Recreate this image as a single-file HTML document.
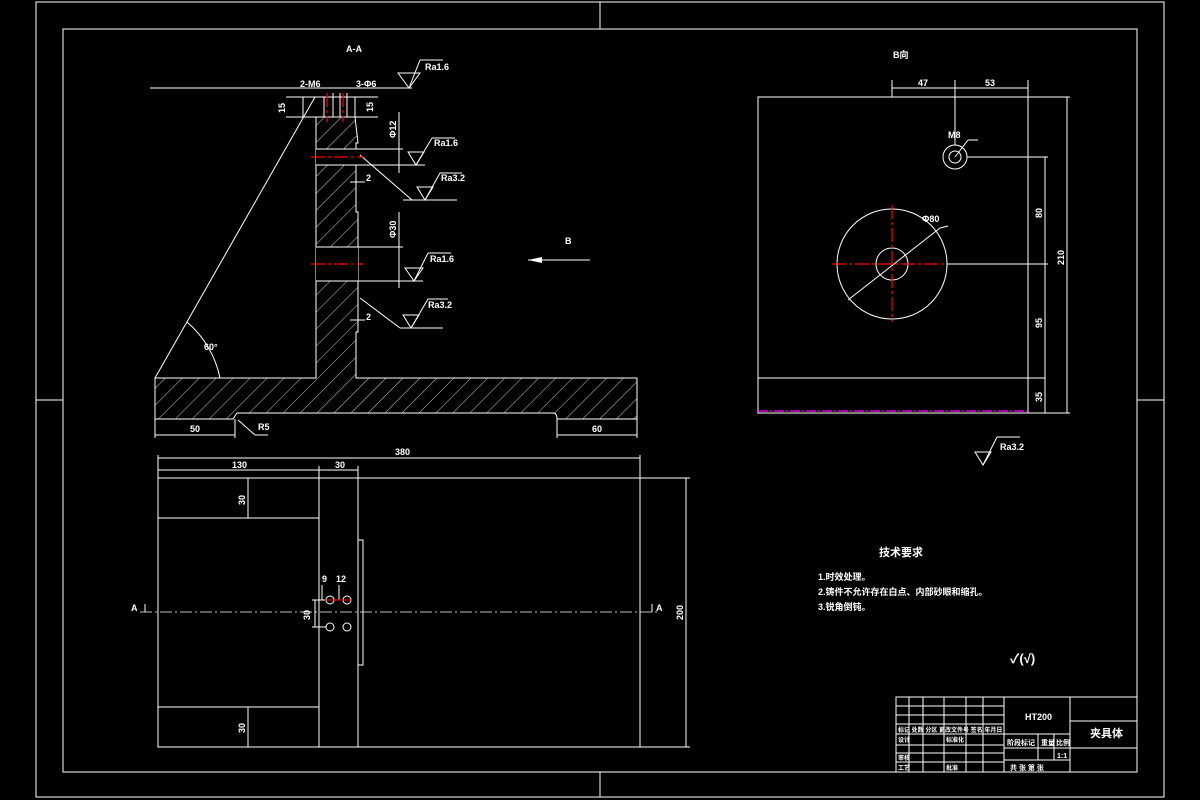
<!DOCTYPE html>
<html><head><meta charset="utf-8"><style>
html,body{margin:0;padding:0;background:#000;}
svg{display:block;}
text{font-family:"Liberation Sans","Noto Sans CJK SC",sans-serif;fill:#fff;font-size:9px;font-weight:bold;}
</style></head><body>
<svg width="1200" height="800" viewBox="0 0 1200 800" xmlns="http://www.w3.org/2000/svg">
<defs>
<pattern id="h" width="12" height="12" patternUnits="userSpaceOnUse" patternTransform="rotate(45)">
<line x1="0" y1="0" x2="0" y2="12" stroke="#fff" stroke-width="0.8"/>
</pattern>
</defs>
<g stroke="#fff" fill="none" stroke-width="1">
<!-- frames -->
<rect x="36" y="2" width="1128" height="795"/>
<rect x="63" y="29" width="1074" height="743"/>
<line x1="600" y1="2" x2="600" y2="29"/><line x1="600" y1="772" x2="600" y2="797"/>
<line x1="36" y1="400" x2="63" y2="400"/><line x1="1137" y1="400" x2="1164" y2="400"/>

<!-- section A-A -->
<path d="M316 117 L316 378 L155 378 L155 419 L233 419 L237 413 L553 413 Q557 413 557 419 L637 419 L637 378 L356 378 L356 332 L358 332 L358 212 L356 212 L356 143 L358 143 L355 117 Z" fill="url(#h)"/>
<rect x="316" y="149" width="42" height="16" fill="#000" stroke="none"/>
<rect x="316" y="247" width="42" height="34" fill="#000" stroke="none"/>
<line x1="316" y1="149" x2="403" y2="149"/><line x1="316" y1="165" x2="425" y2="165"/>
<line x1="316" y1="247" x2="403" y2="247"/><line x1="316" y1="281" x2="423" y2="281"/>
<rect x="303" y="97" width="52" height="20"/>
<line x1="324" y1="97" x2="324" y2="117"/><line x1="333" y1="93" x2="333" y2="117"/>
<line x1="340" y1="93" x2="340" y2="117"/><line x1="347" y1="93" x2="347" y2="117"/>
<line x1="155" y1="378" x2="315" y2="97"/>
<path d="M187 322 A100 100 0 0 1 220 378"/>
<!-- dims -->
<line x1="150" y1="88" x2="412" y2="88"/>
<line x1="286" y1="97" x2="303" y2="97"/><line x1="286" y1="117" x2="303" y2="117"/>
<line x1="355" y1="97" x2="378" y2="97"/><line x1="355" y1="117" x2="378" y2="117"/>
<line x1="399" y1="112" x2="399" y2="173"/><line x1="399" y1="212" x2="399" y2="288"/>
<line x1="155" y1="419" x2="155" y2="438"/><line x1="235" y1="419" x2="235" y2="438"/>
<line x1="155" y1="435" x2="235" y2="435"/>
<line x1="557" y1="419" x2="557" y2="438"/><line x1="637" y1="419" x2="637" y2="438"/>
<line x1="557" y1="435" x2="637" y2="435"/>
<line x1="238" y1="420" x2="255" y2="435"/><line x1="255" y1="435" x2="268" y2="435"/>
<!-- roughness leaders -->
<line x1="360" y1="155" x2="412" y2="200"/><line x1="360" y1="298" x2="400" y2="328"/>
<path d="M398 73 L409 88 L420 73 Z"/><line x1="409" y1="88" x2="420" y2="60"/><line x1="420" y1="60" x2="443" y2="60"/>
<path d="M408 152 L416 165 L424 152 Z"/><line x1="416" y1="165" x2="432" y2="138"/><line x1="432" y1="138" x2="455" y2="138"/>
<path d="M417 187 L425 200 L433 187 Z"/><line x1="403" y1="200" x2="457" y2="200"/><line x1="425" y1="200" x2="440" y2="173"/><line x1="440" y1="173" x2="462" y2="173"/>
<path d="M405 268 L414 281 L423 268 Z"/><line x1="414" y1="281" x2="428" y2="253"/><line x1="428" y1="253" x2="451" y2="253"/>
<path d="M403 315 L411 328 L419 315 Z"/><line x1="400" y1="328" x2="443" y2="328"/><line x1="411" y1="328" x2="428" y2="299"/><line x1="428" y1="299" x2="448" y2="299"/>
<line x1="350" y1="182" x2="365" y2="182"/><line x1="350" y1="320" x2="365" y2="320"/>
<!-- arrow B -->
<line x1="528" y1="260" x2="590" y2="260"/>
</g>
<path d="M528 260 L542 257 L542 263 Z" fill="#fff"/>
<g stroke="#f00" stroke-dasharray="14 3 3 3" stroke-width="1.2">
<line x1="311" y1="157" x2="363" y2="157"/><line x1="311" y1="264" x2="363" y2="264"/>
<line x1="327" y1="93" x2="327" y2="122"/><line x1="343" y1="93" x2="343" y2="122"/>
</g>
<text x="346" y="52">A-A</text>
<text x="300" y="87">2-M6</text><text x="356" y="87">3-Φ6</text>
<text x="425" y="70">Ra1.6</text><text x="434" y="146">Ra1.6</text>
<text x="441" y="181">Ra3.2</text><text x="430" y="262">Ra1.6</text><text x="428" y="308">Ra3.2</text>
<text x="366" y="181">2</text><text x="366" y="320">2</text>
<text x="204" y="350">60°</text><text x="190" y="432">50</text><text x="592" y="432">60</text>
<text x="258" y="430">R5</text><text x="565" y="244">B</text>
<text x="0" y="0" transform="translate(285 113) rotate(-90)">15</text>
<text x="0" y="0" transform="translate(373 112) rotate(-90)">15</text>
<text x="0" y="0" transform="translate(396 138) rotate(-90)">Φ12</text>
<text x="0" y="0" transform="translate(396 238) rotate(-90)">Φ30</text>

<!-- plan view -->
<g stroke="#fff" fill="none" stroke-width="1">
<rect x="158" y="478" width="482" height="269"/>
<line x1="319" y1="478" x2="319" y2="747"/><line x1="358" y1="478" x2="358" y2="747"/>
<line x1="158" y1="518" x2="319" y2="518"/><line x1="158" y1="707" x2="319" y2="707"/>
<rect x="358" y="540" width="5" height="125"/>
<circle cx="330" cy="600" r="4"/><circle cx="347" cy="600" r="4"/>
<circle cx="330" cy="627" r="4"/><circle cx="347" cy="627" r="4"/>
<line x1="158" y1="455" x2="158" y2="478"/><line x1="640" y1="455" x2="640" y2="478"/>
<line x1="158" y1="458" x2="640" y2="458"/><line x1="158" y1="470" x2="358" y2="470"/>
<line x1="319" y1="466" x2="319" y2="478"/><line x1="358" y1="466" x2="358" y2="478"/>
<line x1="640" y1="478" x2="690" y2="478"/><line x1="640" y1="747" x2="690" y2="747"/>
<line x1="686" y1="478" x2="686" y2="747"/>
<line x1="248" y1="478" x2="248" y2="518"/><line x1="248" y1="707" x2="248" y2="747"/>
<line x1="322" y1="585" x2="322" y2="600"/><line x1="339" y1="585" x2="339" y2="600"/>
<line x1="312" y1="600" x2="326" y2="600"/><line x1="312" y1="627" x2="326" y2="627"/><line x1="315" y1="600" x2="315" y2="627"/>
<line x1="145" y1="604" x2="145" y2="612"/><line x1="652" y1="604" x2="652" y2="612"/>
<line x1="140" y1="612" x2="660" y2="612" stroke-dasharray="12 3 2 3" stroke-width="0.7"/>
</g>
<line x1="325" y1="600" x2="352" y2="600" stroke="#f00" stroke-width="1"/>
<text x="232" y="468">130</text><text x="335" y="468">30</text><text x="395" y="455">380</text>
<text x="322" y="582">9</text><text x="336" y="582">12</text>
<text x="131" y="611">A</text><text x="656" y="611">A</text>
<text x="0" y="0" transform="translate(245 505) rotate(-90)">30</text>
<text x="0" y="0" transform="translate(245 733) rotate(-90)">30</text>
<text x="0" y="0" transform="translate(310 620) rotate(-90)">30</text>
<text x="0" y="0" transform="translate(683 620) rotate(-90)">200</text>

<!-- B view -->
<g stroke="#fff" fill="none" stroke-width="1">
<rect x="758" y="97" width="270" height="316"/>
<line x1="758" y1="378" x2="1045" y2="378"/>
<circle cx="892" cy="264" r="55"/><circle cx="892" cy="264" r="16"/>
<circle cx="955" cy="157" r="12"/><circle cx="955" cy="157" r="6"/>
<line x1="848" y1="300" x2="940" y2="228"/><line x1="940" y1="228" x2="948" y2="226"/>
<line x1="955" y1="157" x2="968" y2="140"/><line x1="968" y1="140" x2="978" y2="140"/>
<line x1="892" y1="80" x2="892" y2="97"/><line x1="955" y1="80" x2="955" y2="145"/><line x1="1028" y1="80" x2="1028" y2="97"/>
<line x1="892" y1="88" x2="1028" y2="88"/>
<line x1="967" y1="157" x2="1048" y2="157"/><line x1="947" y1="264" x2="1048" y2="264"/>
<line x1="1028" y1="97" x2="1070" y2="97"/><line x1="1028" y1="413" x2="1070" y2="413"/>
<line x1="1045" y1="157" x2="1045" y2="413"/><line x1="1067" y1="97" x2="1067" y2="413"/>
<path d="M975 452 L983 465 L991 452 Z"/><line x1="983" y1="465" x2="997" y2="437"/><line x1="997" y1="437" x2="1020" y2="437"/>
</g>
<g stroke="#f00" stroke-dasharray="14 3 3 3" stroke-width="1.2">
<line x1="832" y1="264" x2="947" y2="264"/><line x1="892" y1="205" x2="892" y2="322"/>
</g>
<line x1="758" y1="411" x2="1028" y2="411" stroke="#f0f" stroke-dasharray="10 2 2 2" stroke-width="1.2"/>
<text x="893" y="58">B向</text><text x="918" y="86">47</text><text x="985" y="86">53</text>
<text x="948" y="138">M8</text><text x="922" y="222">Φ80</text>
<text x="1000" y="450">Ra3.2</text>
<text x="0" y="0" transform="translate(1042 218) rotate(-90)">80</text>
<text x="0" y="0" transform="translate(1042 328) rotate(-90)">95</text>
<text x="0" y="0" transform="translate(1042 402) rotate(-90)">35</text>
<text x="0" y="0" transform="translate(1064 265) rotate(-90)">210</text>

<!-- tech requirements -->
<text x="879" y="556" style="font-size:11px">技术要求</text>
<text x="818" y="580">1.时效处理。</text>
<text x="818" y="595">2.铸件不允许存在白点、内部砂眼和缩孔。</text>
<text x="818" y="610">3.锐角倒钝。</text>
<text x="1010" y="663" style="font-size:13px">✓(√)</text>

<!-- title block -->
<g stroke="#fff" fill="none" stroke-width="1">
<rect x="896" y="697" width="241" height="75"/>
<line x1="1004" y1="697" x2="1004" y2="772"/><line x1="1070" y1="697" x2="1070" y2="772"/>
<line x1="1070" y1="721" x2="1137" y2="721"/><line x1="1070" y1="748" x2="1137" y2="748"/>
<line x1="1004" y1="734" x2="1070" y2="734"/><line x1="1004" y1="748" x2="1070" y2="748"/><line x1="1004" y1="760" x2="1070" y2="760"/>
<line x1="896" y1="706" x2="1004" y2="706"/><line x1="896" y1="715" x2="1004" y2="715"/>
<line x1="896" y1="724" x2="1004" y2="724"/><line x1="896" y1="734" x2="1004" y2="734"/>
<line x1="896" y1="745" x2="1004" y2="745"/><line x1="896" y1="753" x2="1004" y2="753"/><line x1="896" y1="762" x2="1004" y2="762"/>
<line x1="909" y1="697" x2="909" y2="772"/><line x1="923" y1="697" x2="923" y2="772"/>
<line x1="944" y1="697" x2="944" y2="772"/><line x1="966" y1="697" x2="966" y2="772"/><line x1="983" y1="697" x2="983" y2="772"/>
<line x1="1038" y1="734" x2="1038" y2="760"/><line x1="1054" y1="734" x2="1054" y2="760"/>
</g>
<text x="1025" y="720">HT200</text>
<text x="1090" y="737" style="font-size:11px">夹具体</text>
<text x="1007" y="745" style="font-size:7px">阶段标记</text><text x="1041" y="745" style="font-size:7px">重量</text><text x="1056" y="745" style="font-size:7px">比例</text>
<text x="1057" y="758" style="font-size:7px">1:1</text>
<text x="1010" y="770" style="font-size:7px">共 张 第 张</text>
<text x="898" y="732" style="font-size:6px">标记 处数 分区 更改文件号 签名 年月日</text>
<text x="898" y="742" style="font-size:6px">设计</text><text x="946" y="742" style="font-size:6px">标准化</text>
<text x="898" y="760" style="font-size:6px">审核</text><text x="898" y="770" style="font-size:6px">工艺</text><text x="946" y="770" style="font-size:6px">批准</text>
</svg>
</body></html>
